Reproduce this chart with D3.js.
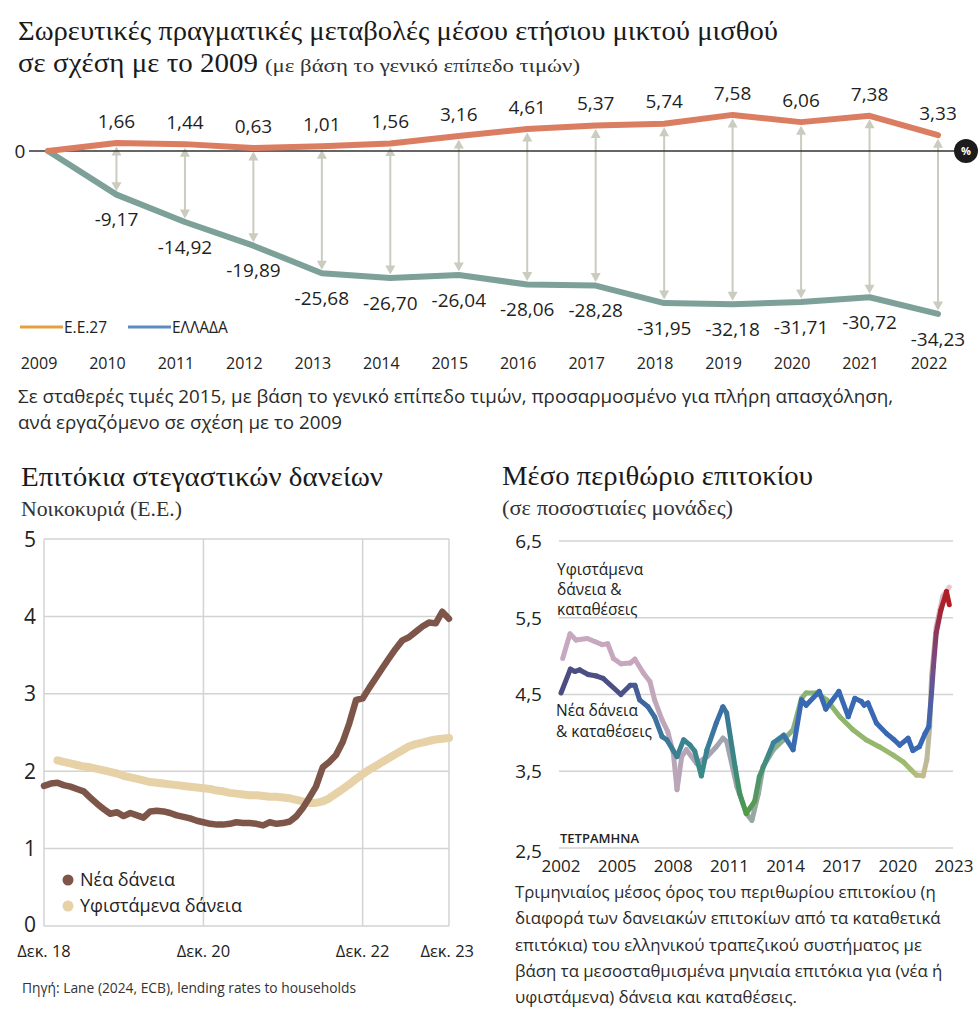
<!DOCTYPE html>
<html>
<head>
<meta charset="utf-8">
<script src="https://cdn.jsdelivr.net/npm/d3@7"></script>
<style>
  html, body { margin: 0; padding: 0; background: #fff; }
  svg { display: block; }
  .sans { font-family: "Open Sans", "Noto Sans", sans-serif; }
  .serif { font-family: "Liberation Serif", "DejaVu Serif", serif; }
</style>
</head>
<body>
<svg id="chart" width="980" height="1010"></svg>
<script>
// ---------- DATA ----------
const topYears = [2009, 2010, 2011, 2012, 2013, 2014, 2015, 2016, 2017, 2018, 2019, 2020, 2021, 2022];
const euValues = [0, 1.66, 1.44, 0.63, 1.01, 1.56, 3.16, 4.61, 5.37, 5.74, 7.58, 6.06, 7.38, 3.33];
const greeceValues = [0, -9.17, -14.92, -19.89, -25.68, -26.70, -26.04, -28.06, -28.28, -31.95, -32.18, -31.71, -30.72, -34.23];
const topLegendLabels = ["Ε.Ε.27", "ΕΛΛΑΔΑ"];

// Housing loan rates, monthly
const newLoansStart = "2018-12";
const newLoans = [1.81, 1.84, 1.85, 1.82, 1.80, 1.77, 1.74, 1.66, 1.58, 1.51, 1.45, 1.47, 1.42, 1.46, 1.43, 1.40,
  1.48, 1.49, 1.48, 1.46, 1.43, 1.41, 1.39, 1.36, 1.34, 1.32, 1.31, 1.31, 1.32, 1.34, 1.33, 1.33, 1.32, 1.30,
  1.34, 1.32, 1.33, 1.35, 1.42, 1.52, 1.66, 1.80, 2.05, 2.12, 2.21, 2.38, 2.62, 2.92, 2.94, 3.08, 3.21, 3.33,
  3.46, 3.58, 3.69, 3.73, 3.80, 3.87, 3.92, 3.91, 4.06, 3.97];
const existingLoansStart = "2019-02";
const existingLoans = [2.14, 2.12, 2.10, 2.08, 2.06, 2.05, 2.03, 2.01, 1.99, 1.97, 1.94, 1.92, 1.90, 1.88, 1.86,
  1.85, 1.84, 1.83, 1.82, 1.81, 1.80, 1.79, 1.78, 1.77, 1.75, 1.74, 1.72, 1.71, 1.70, 1.69, 1.69, 1.68, 1.67,
  1.67, 1.66, 1.65, 1.63, 1.61, 1.59, 1.59, 1.61, 1.65, 1.71, 1.77, 1.83, 1.90, 1.96, 2.02, 2.07, 2.12, 2.17,
  2.22, 2.27, 2.32, 2.35, 2.37, 2.39, 2.41, 2.42, 2.43];
const loanTickDates = ["2018-12", "2020-12", "2022-12", "2023-12"];
const loanTickLabels = ["Δεκ. 18", "Δεκ. 20", "Δεκ. 22", "Δεκ. 23"];
const loanYTicks = [0, 1, 2, 3, 4, 5];
const loanLegend = ["Νέα δάνεια", "Υφιστάμενα δάνεια"];

// Interest margin (percentage points): [year, value]
const marginExisting = [[2002.09, 4.97], [2002.48, 5.29], [2002.8, 5.21], [2003.4, 5.23], [2003.8, 5.19], [2004.2, 5.15],
  [2004.5, 5.16], [2004.8, 4.97], [2005.2, 4.90], [2005.7, 4.91], [2005.95, 4.96], [2006.4, 4.78], [2006.75, 4.67],
  [2007.0, 4.43], [2007.4, 4.17], [2007.7, 4.02], [2008.0, 3.74], [2008.2, 3.26], [2008.45, 3.69], [2008.7, 3.78],
  [2009.25, 3.60], [2009.8, 3.69], [2010.3, 3.82], [2010.65, 3.93], [2010.85, 3.89], [2011.4, 3.30], [2011.9, 2.95],
  [2012.2, 2.86], [2012.55, 3.21], [2012.8, 3.56], [2013.35, 3.78], [2013.9, 3.91], [2014.4, 4.04], [2014.85, 4.45],
  [2015.1, 4.52], [2015.65, 4.52], [2016.2, 4.43], [2016.9, 4.21], [2017.6, 4.04], [2018.3, 3.91], [2019.0, 3.82],
  [2019.75, 3.71], [2020.3, 3.62], [2020.7, 3.52], [2021.0, 3.45], [2021.35, 3.44], [2021.55, 3.65], [2021.7, 4.08],
  [2021.8, 4.73], [2022.05, 5.38], [2022.4, 5.78], [2022.75, 5.90]];
const marginNew = [[2002.0, 4.52], [2002.5, 4.83], [2002.75, 4.80], [2003.0, 4.82], [2003.45, 4.76], [2003.9, 4.74],
  [2004.25, 4.71], [2005.2, 4.50], [2005.7, 4.62], [2005.95, 4.62], [2006.2, 4.43], [2006.65, 4.34], [2007.0, 4.21],
  [2007.4, 3.95], [2007.65, 3.91], [2008.2, 3.69], [2008.55, 3.91], [2008.9, 3.84], [2009.15, 3.76], [2009.5, 3.44],
  [2009.8, 3.78], [2010.3, 4.13], [2010.65, 4.34], [2010.85, 4.26], [2011.3, 3.56], [2011.55, 3.21], [2011.9, 2.95],
  [2012.1, 3.02], [2012.35, 3.11], [2012.6, 3.43], [2013.35, 3.87], [2013.9, 3.97], [2014.4, 3.78], [2014.85, 4.43],
  [2015.1, 4.36], [2015.8, 4.54], [2016.15, 4.31], [2016.45, 4.41], [2016.85, 4.54], [2017.35, 4.21], [2017.7, 4.45],
  [2018.05, 4.41], [2018.2, 4.36], [2018.4, 4.39], [2018.85, 4.13], [2019.4, 3.99], [2019.8, 3.91], [2020.1, 3.84],
  [2020.55, 3.93], [2020.8, 3.77], [2021.15, 3.82], [2021.45, 3.99], [2021.65, 4.08], [2021.8, 4.52], [2021.9, 4.86],
  [2022.05, 5.30], [2022.3, 5.60], [2022.6, 5.84], [2022.75, 5.67]];
const marginYearTicks = [2002, 2005, 2008, 2011, 2014, 2017, 2020, 2023];
const marginYTicks = [2.5, 3.5, 4.5, 5.5, 6.5];

// ---------- DRAW ----------
const svg = d3.select("#chart");
const defs = svg.append("defs");
const comma = v => String(v).replace(".", ",");

function serifText(x, y, size, len, txt, fill) {
  return svg.append("text").attr("class", "serif").attr("x", x).attr("y", y)
    .attr("font-size", size).attr("fill", fill || "#1a1a1a")
    .attr("textLength", len).attr("lengthAdjust", "spacingAndGlyphs").text(txt);
}

// ===== Top chart =====
serifText(18, 40, 27.5, 760, "Σωρευτικές πραγματικές μεταβολές μέσου ετήσιου μικτού μισθού");
serifText(18, 72, 27.5, 240, "σε σχέση με το 2009");
serifText(265, 72, 19, 315, "(με βάση το γενικό επίπεδο τιμών)", "#333");

const xTop = d3.scaleLinear().domain([2009, 2022]).range([48, 938]);
const yTop = d3.scaleLinear().domain([-35, 8]).range([317.6, 112.9]);
const gTop = svg.append("g");

// arrows
const arrowColor = "#c9ccbe";
topYears.forEach((yr, i) => {
  if (i === 0) return;
  const x = xTop(yr);
  const y1 = yTop(euValues[i]) + 3.5;
  const y2 = yTop(greeceValues[i]) - 3.5;
  gTop.append("line").attr("x1", x).attr("x2", x).attr("y1", y1 + 6).attr("y2", y2 - 6)
    .attr("stroke", arrowColor).attr("stroke-width", 2);
  gTop.append("path").attr("d", `M${x},${y1} L${x - 5},${y1 + 9} L${x + 5},${y1 + 9} Z`).attr("fill", arrowColor);
  gTop.append("path").attr("d", `M${x},${y2} L${x - 5},${y2 - 9} L${x + 5},${y2 - 9} Z`).attr("fill", arrowColor);
});

// zero axis
gTop.append("line").attr("x1", 29).attr("x2", 958).attr("y1", yTop(0)).attr("y2", yTop(0))
  .attr("stroke", "#333").attr("stroke-width", 1.5);
gTop.append("text").attr("class", "sans").attr("x", 20).attr("y", yTop(0)).attr("dy", "0.35em")
  .attr("text-anchor", "middle").attr("font-size", 19).attr("fill", "#222").text("0");
gTop.append("circle").attr("cx", 966).attr("cy", yTop(0)).attr("r", 12).attr("fill", "#1c1c1c");
gTop.append("text").attr("class", "sans").attr("x", 966).attr("y", yTop(0)).attr("dy", "0.36em")
  .attr("text-anchor", "middle").attr("font-size", 11).attr("font-weight", 700).attr("fill", "#fff").text("%");

const topLine = d3.line().x((d, i) => xTop(topYears[i])).y(d => yTop(d));
gTop.append("path").attr("d", topLine(greeceValues)).attr("fill", "none")
  .attr("stroke", "#7da198").attr("stroke-width", 6).attr("stroke-linejoin", "round").attr("stroke-linecap", "round");
gTop.append("path").attr("d", topLine(euValues)).attr("fill", "none")
  .attr("stroke", "#db7d61").attr("stroke-width", 6).attr("stroke-linejoin", "round").attr("stroke-linecap", "round");

// value labels
topYears.forEach((yr, i) => {
  if (i === 0) return;
  gTop.append("text").attr("class", "sans").attr("x", xTop(yr)).attr("y", yTop(euValues[i]) - 22)
    .attr("dy", "0.35em").attr("text-anchor", "middle").attr("font-size", 19).attr("fill", "#1f1f1f")
    .text(euValues[i].toFixed(2).replace(".", ","));
  gTop.append("text").attr("class", "sans").attr("x", xTop(yr)).attr("y", yTop(greeceValues[i]) + 25)
    .attr("dy", "0.35em").attr("text-anchor", "middle").attr("font-size", 19).attr("fill", "#1f1f1f")
    .text(greeceValues[i].toFixed(2).replace(".", ","));
});

// legend
const legColors = ["#e2a13d", "#5b8cbf"];
const legX = [20, 128];
topLegendLabels.forEach((lab, i) => {
  gTop.append("line").attr("x1", legX[i]).attr("x2", legX[i] + 43).attr("y1", 327).attr("y2", 327)
    .attr("stroke", legColors[i]).attr("stroke-width", 3);
  gTop.append("text").attr("class", "sans").attr("x", legX[i] + 44).attr("y", 327).attr("dy", "0.36em")
    .attr("font-size", 15.5).attr("fill", "#222").text(lab);
});

// years
topYears.forEach(yr => {
  gTop.append("text").attr("class", "sans").attr("x", xTop(yr) - 9).attr("y", 363).attr("dy", "0.36em")
    .attr("text-anchor", "middle").attr("font-size", 16).attr("fill", "#222").text(yr);
});

// note
svg.append("text").attr("class", "sans").attr("x", 18).attr("y", 403).attr("font-size", 18.8).attr("fill", "#2a2a2a")
  .text("Σε σταθερές τιμές 2015, με βάση το γενικό επίπεδο τιμών, προσαρμοσμένο για πλήρη απασχόληση,");
svg.append("text").attr("class", "sans").attr("x", 18).attr("y", 429).attr("font-size", 18.8).attr("fill", "#2a2a2a")
  .text("ανά εργαζόμενο σε σχέση με το 2009");

// ===== Bottom-left chart =====
serifText(21, 486, 27.5, 362, "Επιτόκια στεγαστικών δανείων");
serifText(21, 516, 21, 161, "Νοικοκυριά (Ε.Ε.)", "#333");

const parseM = d3.timeParse("%Y-%m");
const xL = d3.scaleTime().domain([parseM("2018-12"), parseM("2024-01")]).range([44, 449]);
const yL = d3.scaleLinear().domain([0, 5]).range([926, 539]);
const gL = svg.append("g");
const gridC = "#d3d3d3";
loanYTicks.forEach(v => {
  gL.append("line").attr("x1", 44).attr("x2", 449).attr("y1", yL(v)).attr("y2", yL(v))
    .attr("stroke", gridC).attr("stroke-width", 1.5);
  gL.append("text").attr("class", "sans").attr("x", 30).attr("y", yL(v) - (v === 0 ? 2 : 0)).attr("dy", "0.36em")
    .attr("text-anchor", "middle").attr("font-size", 21).attr("fill", "#222").text(v);
});
[44, xL(parseM("2020-12")), xL(parseM("2022-12")), 449].forEach(x => {
  gL.append("line").attr("x1", x).attr("x2", x).attr("y1", 539).attr("y2", 926)
    .attr("stroke", gridC).attr("stroke-width", 1.5);
});
loanTickDates.forEach((d, i) => {
  gL.append("text").attr("class", "sans").attr("x", xL(parseM(d)) + (i === 3 ? 5 : 0)).attr("y", 951).attr("dy", "0.36em")
    .attr("text-anchor", "middle").attr("font-size", 16.5).attr("fill", "#222").text(loanTickLabels[i]);
});
const newDates = newLoans.map((v, i) => d3.timeMonth.offset(parseM(newLoansStart), i));
const exDates = existingLoans.map((v, i) => d3.timeMonth.offset(parseM(existingLoansStart), i));
const lineL = d3.line().x(d => xL(d[0])).y(d => yL(d[1]));
gL.append("path").attr("d", lineL(existingLoans.map((v, i) => [exDates[i], v]))).attr("fill", "none")
  .attr("stroke", "#e6d2a6").attr("stroke-width", 8).attr("stroke-linejoin", "round").attr("stroke-linecap", "round");
gL.append("path").attr("d", lineL(newLoans.map((v, i) => [newDates[i], v]))).attr("fill", "none")
  .attr("stroke", "#7e5649").attr("stroke-width", 6.5).attr("stroke-linejoin", "round").attr("stroke-linecap", "round");
const legLC = ["#7e5649", "#e6d2a6"];
loanLegend.forEach((lab, i) => {
  const y = 880 + i * 26;
  gL.append("circle").attr("cx", 68).attr("cy", y).attr("r", 5.5).attr("fill", legLC[i]);
  gL.append("text").attr("class", "sans").attr("x", 80).attr("y", y).attr("dy", "0.36em")
    .attr("font-size", 18).attr("fill", "#222").text(lab);
});
svg.append("text").attr("class", "sans").attr("x", 22).attr("y", 993).attr("font-size", 13.8).attr("fill", "#333")
  .text("Πηγή: Lane (2024, ECB), lending rates to households");

// ===== Bottom-right chart =====
serifText(502, 485, 27.5, 311, "Μέσο περιθώριο επιτοκίου");
serifText(502, 515, 21, 231, "(σε ποσοστιαίες μονάδες)", "#333");

const xR = d3.scaleLinear().domain([2002, 2023]).range([561, 954]);
const yR = d3.scaleLinear().domain([2.5, 6.5]).range([848, 541]);
const gR = svg.append("g");
marginYTicks.forEach(v => {
  gR.append("line").attr("x1", 559).attr("x2", 953).attr("y1", yR(v)).attr("y2", yR(v))
    .attr("stroke", gridC).attr("stroke-width", 1.5);
  gR.append("text").attr("class", "sans").attr("x", 542).attr("y", yR(v) + (v === 2.5 ? 3 : 0)).attr("dy", "0.36em")
    .attr("text-anchor", "end").attr("font-size", 19).attr("fill", "#222").text(comma(v));
});
marginYearTicks.forEach(yr => {
  gR.append("text").attr("class", "sans").attr("x", xR(yr)).attr("y", 866).attr("dy", "0.36em")
    .attr("text-anchor", "middle").attr("font-size", 17).attr("fill", "#222").text(yr);
});
gR.append("text").attr("class", "sans").attr("x", 560).attr("y", 838).attr("dy", "0.36em")
  .attr("font-size", 13).attr("font-weight", 600).attr("fill", "#222").text("ΤΕΤΡΑΜΗΝΑ");

const colorExisting = d3.scaleLinear()
  .domain([2002, 2006.5, 2008, 2010, 2011.5, 2012.5, 2014, 2016, 2020.5, 2021.3, 2021.8, 2022.2, 2022.75])
  .range(["#c8a8c0", "#c6a7bd", "#bba6b8", "#a8a3b3", "#9ba5a8", "#93a9a0", "#8bb08a", "#8bb46a", "#9cba70",
          "#c3bd8a", "#b9b5a5", "#d6b2bd", "#ecc6ce"])
  .interpolate(d3.interpolateRgb).clamp(true);
const colorNew = d3.scaleLinear()
  .domain([2002, 2005.5, 2006.5, 2008, 2009.5, 2010.5, 2011.3, 2011.8, 2012.3, 2013, 2014.5, 2021.7, 2021.9, 2022.2, 2022.75])
  .range(["#4d4c82", "#4b5088", "#3c69a6", "#3b7e95", "#3a8b88", "#3a69ae", "#3a8a80", "#4f9a45", "#5a9a55",
          "#3a8a90", "#3a69b3", "#3a69b3", "#7a4a85", "#a12536", "#b31c22"])
  .interpolate(d3.interpolateRgb).clamp(true);

let gradId = 0;
function gradientLine(g, data, color, width) {
  for (let i = 0; i < data.length - 1; i++) {
    const a = data[i], b = data[i + 1];
    const id = "seg" + (gradId++);
    const lg = defs.append("linearGradient").attr("id", id).attr("gradientUnits", "userSpaceOnUse")
      .attr("x1", xR(a[0])).attr("y1", yR(a[1])).attr("x2", xR(b[0])).attr("y2", yR(b[1]));
    lg.append("stop").attr("offset", 0).attr("stop-color", color(a[0]));
    lg.append("stop").attr("offset", 1).attr("stop-color", color(b[0]));
    g.append("line").attr("x1", xR(a[0])).attr("y1", yR(a[1])).attr("x2", xR(b[0])).attr("y2", yR(b[1]))
      .attr("stroke", `url(#${id})`).attr("stroke-width", width).attr("stroke-linecap", "round");
  }
}
gradientLine(gR.append("g"), marginExisting, colorExisting, 5);
gradientLine(gR.append("g"), marginNew, colorNew, 5);

const ann1 = ["Υφιστάμενα", "δάνεια &", "καταθέσεις"];
ann1.forEach((t, i) => gR.append("text").attr("class", "sans").attr("x", 557).attr("y", 575 + i * 20)
  .attr("font-size", 15.5).attr("fill", "#222").text(t));
const ann2 = ["Νέα δάνεια", "& καταθέσεις"];
ann2.forEach((t, i) => gR.append("text").attr("class", "sans").attr("x", 556).attr("y", 716 + i * 21)
  .attr("font-size", 15.5).attr("fill", "#222").text(t));

const noteR = ["Τριμηνιαίος μέσος όρος του περιθωρίου επιτοκίου (η",
  "διαφορά των δανειακών επιτοκίων από τα καταθετικά",
  "επιτόκια) του ελληνικού τραπεζικού συστήματος με",
  "βάση τα μεσοσταθμισμένα μηνιαία επιτόκια για (νέα ή",
  "υφιστάμενα) δάνεια και καταθέσεις."];
noteR.forEach((t, i) => svg.append("text").attr("class", "sans").attr("x", 515).attr("y", 898 + i * 26.3)
  .attr("font-size", 16.8).attr("fill", "#2a2a2a").text(t));
</script>
</body>
</html>
